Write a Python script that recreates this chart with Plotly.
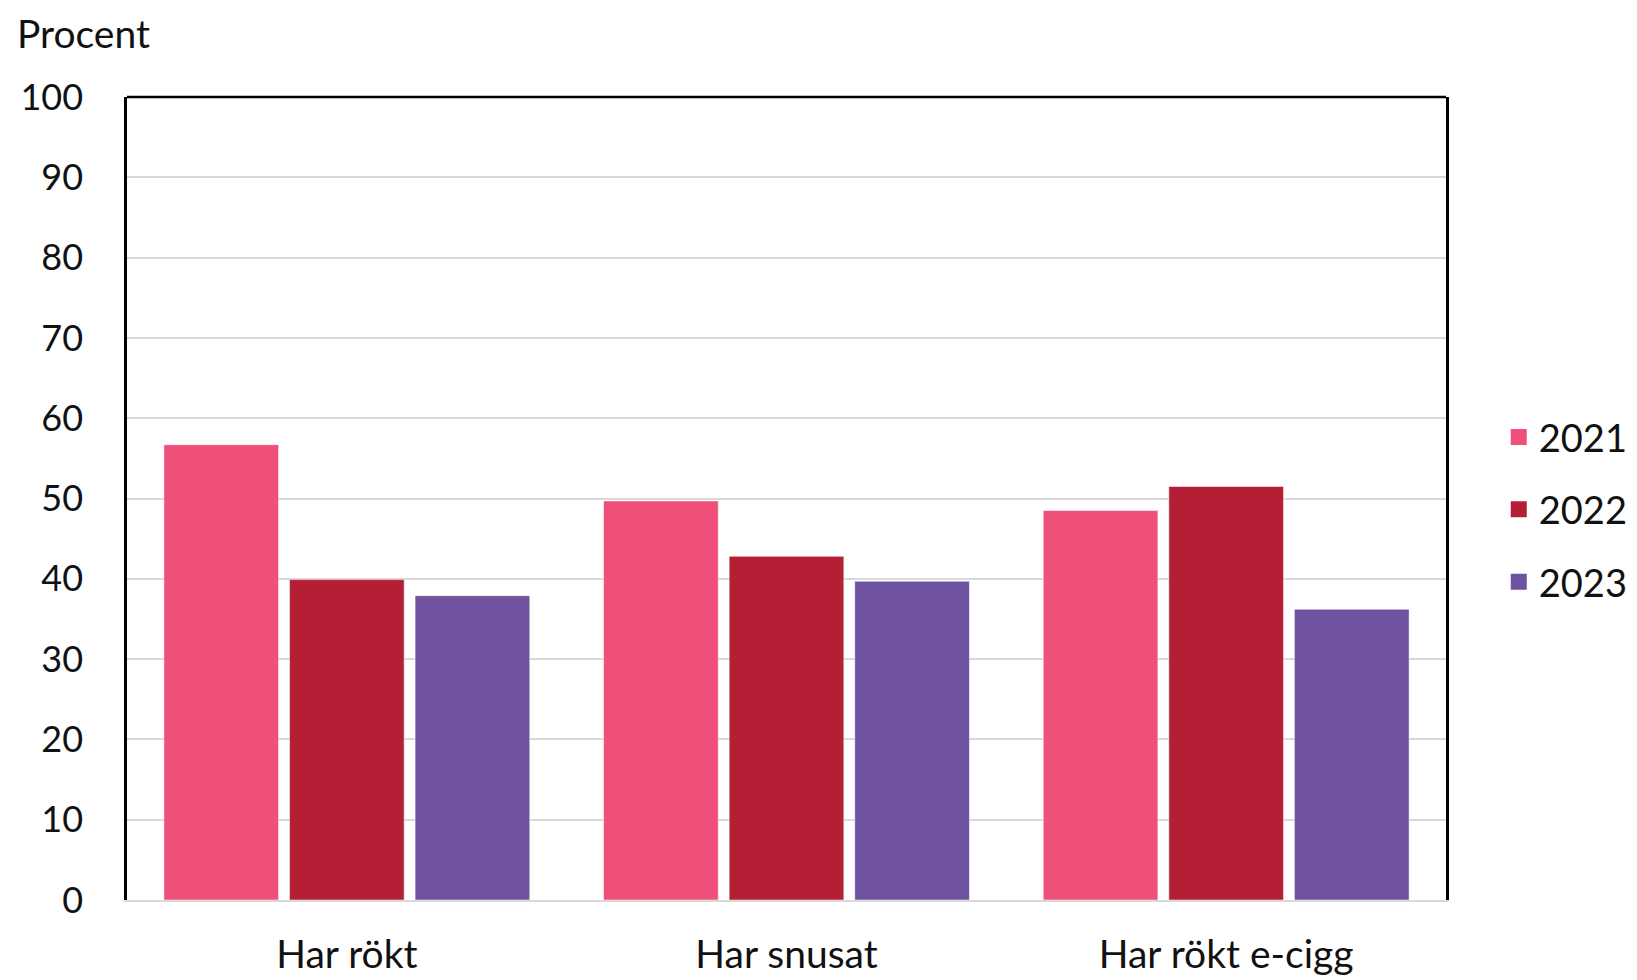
import plotly.graph_objects as go

categories = ["Har rökt", "Har snusat", "Har rökt e-cigg"]
years = ["2021", "2022", "2023"]
values_2021 = [56.7, 49.7, 48.5]
values_2022 = [39.9, 42.8, 51.5]
values_2023 = [37.9, 39.7, 36.2]
colors = ["#EF5079", "#B51F35", "#6F52A0"]
y_ticks = [0, 10, 20, 30, 40, 50, 60, 70, 80, 90, 100]

FONT = "Lato, 'Open Sans', sans-serif"

fig = go.Figure()
for name, vals, col in zip(years, [values_2021, values_2022, values_2023], colors):
    fig.add_trace(go.Bar(
        x=categories, y=vals, name=name, legendgroup=name, showlegend=False,
        marker=dict(color=col, line=dict(color="rgba(255,255,255,0.5)", width=1)),
    ))
    # legend entry with a larger square swatch
    fig.add_trace(go.Scatter(
        x=[None], y=[None], mode="markers", name=name, legendgroup=name,
        marker=dict(symbol="square", size=16, color=col), showlegend=True,
    ))

fig.update_layout(
    width=1637, height=980,
    paper_bgcolor="white", plot_bgcolor="white",
    margin=dict(l=115, r=195, t=89, b=73),
    barmode="group", bargap=0.143, bargroupgap=0.087,
    font=dict(family=FONT, size=36, color="#111111"),
    showlegend=True,
    legend=dict(x=1.04, xanchor="left", xref="paper", y=0.486, yanchor="middle",
                font=dict(size=38, color="#111111"), tracegroupgap=20,
                itemwidth=30, bgcolor="rgba(0,0,0,0)", traceorder="grouped",
                itemsizing="trace"),
    xaxis=dict(showgrid=False, showline=True, linecolor="#D9D9D9", linewidth=2,
               ticks="", ticklabelstandoff=19, tickfont=dict(size=39)),
    yaxis=dict(range=[0, 100], tickvals=y_ticks, showgrid=True, gridcolor="#D9D9D9",
               gridwidth=2, zeroline=False, showline=True, linecolor="#000000",
               linewidth=2.5, mirror=True, ticks="", ticklabelstandoff=34,
               tickfont=dict(size=36)),
    annotations=[dict(text="Procent", xref="paper", yref="paper", x=0, y=1,
                      xanchor="left", yanchor="top", yshift=88, showarrow=False,
                      borderpad=0, font=dict(size=39, color="#111111"), xshift=-111)],
    shapes=[dict(type="line", xref="paper", yref="paper", x0=0, x1=1, y0=1, y1=1,
                 line=dict(color="#000000", width=2.5))],
)

fig.write_html("out.html")
